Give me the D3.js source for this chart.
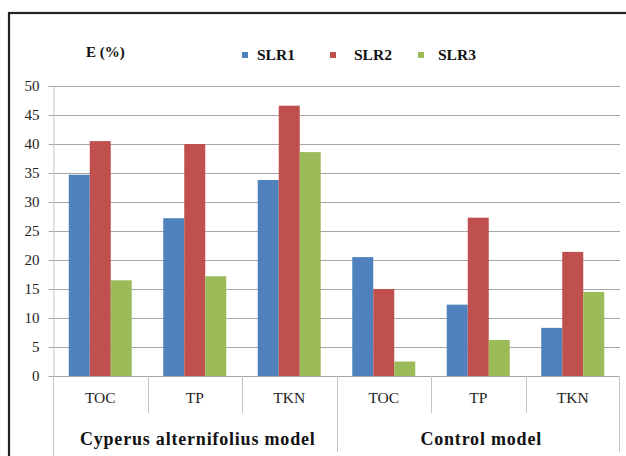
<!DOCTYPE html>
<html>
<head>
<meta charset="utf-8">
<script src="https://cdn.jsdelivr.net/npm/d3@7"></script>
<style>
  body { margin: 0; background: #fff; }
</style>
</head>
<body>
<div id="chart"></div>
<script>
const groups = ["Cyperus alternifolius model", "Control model"];
const params = ["TOC", "TP", "TKN"];
const series = ["SLR1", "SLR2", "SLR3"];
const colors = ["#4F81BD", "#C0504D", "#9BBB59"];
const yTicks = [0, 5, 10, 15, 20, 25, 30, 35, 40, 45, 50];

// values per category (group x param), order SLR1, SLR2, SLR3
const cyperusValues = [
  [34.7, 40.5, 16.5],
  [27.2, 40.0, 17.2],
  [33.8, 46.6, 38.6]
];
const controlValues = [
  [20.5, 15.0, 2.5],
  [12.3, 27.3, 6.2],
  [8.3, 21.4, 14.5]
];

const FONT = "Liberation Serif";
const width = 626, height = 456;
const plotLeft = 53, plotRight = 620, plotTop = 86, plotBottom = 376;

const cats = [];
groups.forEach((g, gi) => params.forEach((p, pi) => {
  cats.push({ id: gi + "-" + p, group: g, param: p,
    values: (gi === 0 ? cyperusValues : controlValues)[pi] });
}));

const svg = d3.select("#chart").append("svg")
  .attr("width", width).attr("height", height)
  .style("display", "block");

// outer frame
svg.append("rect")
  .attr("x", 9).attr("y", 13)
  .attr("width", 640).attr("height", 460)
  .attr("fill", "none").attr("stroke", "#222").attr("stroke-width", 2.2);

const x0 = d3.scaleBand().domain(cats.map(d => d.id)).range([plotLeft, plotRight]);
const x1 = d3.scaleBand().domain(series).range([0, x0.bandwidth()]).paddingOuter(0.75);
const y = d3.scaleLinear().domain([0, 50]).range([plotBottom, plotTop]);

// gridlines
svg.append("g").selectAll("line").data(yTicks.filter(t => t > 0)).join("line")
  .attr("x1", plotLeft).attr("x2", plotRight)
  .attr("y1", d => y(d) + 0.5).attr("y2", d => y(d) + 0.5)
  .attr("stroke", "#a6a6a6").attr("stroke-width", 1);

// y axis
const yAxis = svg.append("g")
  .attr("transform", `translate(${plotLeft + 0.5},0)`)
  .call(d3.axisLeft(y).tickValues(yTicks).tickSize(5).tickPadding(9));
yAxis.select(".domain").attr("stroke", "#c4c4c4");
yAxis.selectAll(".tick line").attr("stroke", "#a6a6a6");
yAxis.selectAll(".tick text")
  .style("font-family", FONT).style("font-size", "15px").attr("fill", "#222");

// bars
const cg = svg.append("g").selectAll("g").data(cats).join("g")
  .attr("transform", d => `translate(${x0(d.id)},0)`);
cg.selectAll("rect").data(d => d.values.map((v, i) => ({ s: series[i], v, i }))).join("rect")
  .attr("x", d => x1(d.s))
  .attr("width", x1.bandwidth())
  .attr("y", d => y(d.v))
  .attr("height", d => y(0) - y(d.v))
  .attr("fill", d => colors[d.i]);

// category axis
svg.append("line")
  .attr("x1", plotLeft).attr("x2", plotRight)
  .attr("y1", plotBottom + 0.5).attr("y2", plotBottom + 0.5)
  .attr("stroke", "#a6a6a6");

const catAxis = svg.append("g");
cats.forEach((c, i) => {
  const xb = Math.round(x0(c.id)) + 0.5;
  const isGroupEdge = i % params.length === 0;
  catAxis.append("line")
    .attr("x1", xb).attr("x2", xb)
    .attr("y1", plotBottom).attr("y2", isGroupEdge ? (i === 0 ? height : 452) : 413)
    .attr("stroke", "#c4c4c4");
  catAxis.append("text")
    .attr("x", x0(c.id) + x0.bandwidth() / 2)
    .attr("y", 403)
    .attr("text-anchor", "middle")
    .style("font-family", FONT).style("font-size", "15.5px").attr("fill", "#222")
    .text(c.param);
});
catAxis.append("line")
  .attr("x1", plotRight - 0.5).attr("x2", plotRight - 0.5)
  .attr("y1", plotBottom).attr("y2", 452)
  .attr("stroke", "#c4c4c4");

groups.forEach((g, gi) => {
  const first = x0(gi + "-" + params[0]);
  const last = x0(gi + "-" + params[params.length - 1]) + x0.bandwidth();
  catAxis.append("text")
    .attr("x", (first + last) / 2 + 3)
    .attr("y", 445)
    .attr("text-anchor", "middle")
    .style("font-family", FONT).style("font-size", "18px").style("font-weight", "bold")
    .style("letter-spacing", "0.8px").attr("fill", "#111")
    .text(g);
});

// axis title
svg.append("text")
  .attr("x", 86).attr("y", 57)
  .style("font-family", FONT).style("font-size", "15px").style("font-weight", "bold")
  .attr("fill", "#111")
  .text("E (%)");

// legend
const legendX = [242, 330, 418];
const legendTextX = [257, 354, 438];
const lg = svg.append("g").selectAll("g").data(series).join("g");
lg.append("rect")
  .attr("x", (d, i) => legendX[i]).attr("y", 52)
  .attr("width", 6).attr("height", 6)
  .attr("fill", (d, i) => colors[i]);
lg.append("text")
  .attr("x", (d, i) => legendTextX[i]).attr("y", 60)
  .style("font-family", FONT).style("font-size", "15.5px").style("font-weight", "bold")
  .attr("fill", "#111")
  .text(d => d);
</script>
</body>
</html>
